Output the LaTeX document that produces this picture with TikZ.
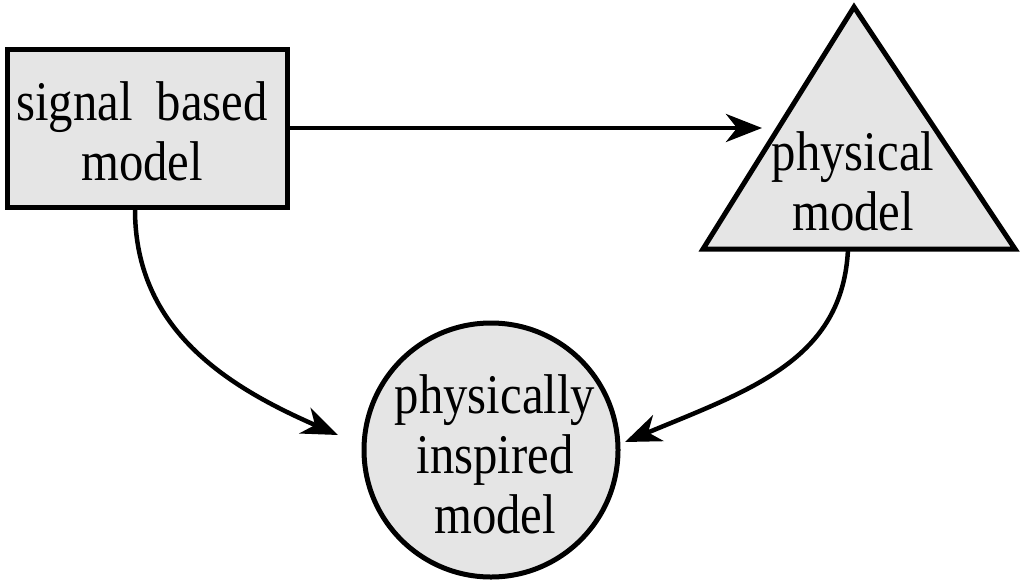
\documentclass[tikz,border=0pt]{standalone}
\usepackage{fontspec}
\setmainfont{Liberation Serif}[FakeStretch=0.87]
\usetikzlibrary{arrows.meta}
\begin{document}
\begin{tikzpicture}[x=1pt,y=-1pt,
  shapebox/.style={draw=black, line width=5pt, fill=gray!20},
  lbl/.style={font=\fontsize{56}{60}\selectfont, align=center, inner sep=0pt, anchor=base},
  conn/.style={line width=4.5pt, -{Stealth[length=36pt,width=28pt,inset=11pt]}}]
\useasboundingbox (0,0) rectangle (1024,584);
% shapes
\node[shapebox, rectangle, minimum width=280pt, minimum height=158pt, inner sep=0pt] (sig) at (147,128) {};
\draw[shapebox] (854,7) coordinate (apex) -- (703,249) coordinate (tl) -- (1015,249) coordinate (tr) -- cycle;
\node[shapebox, circle, minimum size=254pt, inner sep=0pt] (ins) at (491,450) {};
% free ends
\coordinate (phyin) at (762,128);
\coordinate (phybot) at (848,249);
\coordinate (insL) at (338,435);
\coordinate (insR) at (625,442);
% labels (anchor = baseline of last line)
\node[lbl] (sigtxt) at (142,180) {signal\ \ based\\model};
\node[lbl] (phytxt) at (853,230) {physical\\model};
\node[lbl] (instxt) at (495,533) {physically\\inspired\\model};
% connectors
\draw[conn] (sig.east) -- (phyin);
\draw[conn] ([xshift=-12pt]sig.south) .. controls (135,330) and (228,387) .. (insL);
\draw[conn] (phybot) .. controls (843,360) and (750,390) .. (insR);
\end{tikzpicture}
\end{document}
